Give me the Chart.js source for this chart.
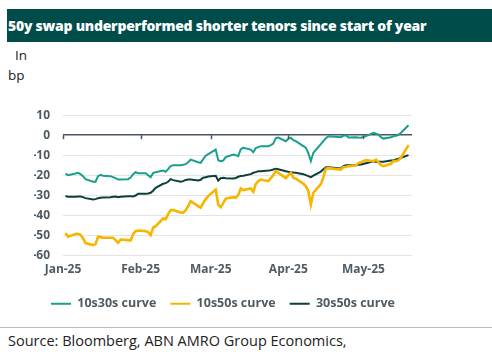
<!DOCTYPE html>
<html>
<head>
<meta charset="utf-8">
<script src="https://cdn.jsdelivr.net/npm/chart.js@4/dist/chart.umd.min.js"></script>
<style>
  html, body { margin: 0; padding: 0; background: #fff; }
  body { width: 492px; height: 356px; position: relative; overflow: hidden; font-family: "Open Sans", sans-serif; }
  #title { position: absolute; left: 7px; top: 9px; width: 485px; height: 33px; background: #004c4a; color: #fff;
           font-weight: 800; font-size: 14px; line-height: 33px; padding-left: 1px; box-sizing: border-box; white-space: nowrap; letter-spacing: -0.25px; }
  .unit { position: absolute; font-size: 13.5px; color: #222; }
  #sep { position: absolute; left: 0; top: 327px; width: 492px; height: 1px; background: #bdbdbd; }
  #source { position: absolute; left: 8px; top: 331px; font-size: 14.5px; color: #222; white-space: nowrap; }
  #wrap { position: absolute; left: 0; top: 95px; width: 492px; height: 225px; }
</style>
</head>
<body>
<div id="title">50y swap underperformed shorter tenors since start of year</div>
<div class="unit" style="left:15px; top:46px;">In</div>
<div class="unit" style="left:8px; top:66px;">bp</div>
<div id="wrap"><canvas id="c"></canvas></div>
<div id="sep"></div>
<div id="source">Source: Bloomberg, ABN AMRO Group Economics,</div>
<script>
const dates = [
 '2025-01-02','2025-01-03','2025-01-06','2025-01-07','2025-01-08','2025-01-09','2025-01-10','2025-01-13','2025-01-14','2025-01-15','2025-01-16','2025-01-17','2025-01-20','2025-01-21','2025-01-22','2025-01-23','2025-01-24','2025-01-27','2025-01-28','2025-01-29','2025-01-30','2025-01-31',
 '2025-02-03','2025-02-04','2025-02-05','2025-02-06','2025-02-07','2025-02-10','2025-02-11','2025-02-12','2025-02-13','2025-02-14','2025-02-17','2025-02-18','2025-02-19','2025-02-20','2025-02-21','2025-02-24','2025-02-25','2025-02-26','2025-02-27','2025-02-28',
 '2025-03-03','2025-03-04','2025-03-05','2025-03-06','2025-03-07','2025-03-10','2025-03-11','2025-03-12','2025-03-13','2025-03-14','2025-03-17','2025-03-18','2025-03-19','2025-03-20','2025-03-21','2025-03-24','2025-03-25','2025-03-26','2025-03-27','2025-03-28','2025-03-31',
 '2025-04-01','2025-04-02','2025-04-03','2025-04-04','2025-04-07','2025-04-08','2025-04-09','2025-04-10','2025-04-11','2025-04-14','2025-04-15','2025-04-16','2025-04-17','2025-04-22','2025-04-23','2025-04-24','2025-04-25','2025-04-28','2025-04-29','2025-04-30',
 '2025-05-02','2025-05-05','2025-05-06','2025-05-07','2025-05-08','2025-05-09','2025-05-12','2025-05-13','2025-05-14','2025-05-15','2025-05-16','2025-05-19'
];
const curve10s30s = [
 -19.2,-20,-19.2,-18.8,-19.5,-20.5,-22,-23.3,-23.3,-20.5,-19.8,-20.3,-20.5,-21,-21.5,-22.2,-22.2,-22,-21.2,-19.5,-18.5,-19,
 -19,-20,-21,-19,-18.5,-17.7,-18.3,-17,-15.5,-15,-15,-14.8,-14.5,-13.5,-12.2,-13.5,-13.8,-12,-10.3,-9.5,
 -7.2,-12.5,-13,-12.7,-11,-9.7,-10,-10.5,-7,-6.3,-7.2,-8.5,-6.5,-6,-5.5,-5.5,-5,-4.2,-1.5,-1.2,-3,
 -1.8,-1.3,-2.5,-3,-5.5,-6.3,-9,-13,-8.8,-4.5,-3,-1.5,-0.5,-1,-0.3,0,-1.2,-1,-1.2,-1.3,
 -0.5,1.2,0.8,0.3,-1,-1.7,-1,-0.6,-0.3,0.2,1.2,5
];
const curve10s50s = [
 -49,-50.8,-49.5,-49.3,-49.8,-51.5,-54,-55,-54.5,-50.8,-51,-51.3,-51.3,-51.3,-52.5,-53.8,-52.2,-52.5,-52.7,-49.5,-48,-47.7,
 -48,-48.5,-50,-46.3,-45.5,-41.7,-42,-39.5,-37.5,-37.5,-38.7,-38.8,-37.5,-35.5,-33,-35.5,-36.3,-34,-32,-30.5,
 -27.2,-34.7,-36,-34,-31.7,-31,-31.3,-30,-26.7,-27.5,-26.7,-28.3,-24.5,-23,-22.2,-23,-21.5,-20,-18,-18.8,-21.5,
 -20,-18.8,-21.3,-21.8,-24.3,-25.5,-28,-34.7,-28.8,-24.5,-21,-16.7,-16.5,-17.2,-16,-15.8,-15.5,-15,-14,-13.5,
 -12.5,-13,-12.2,-13.5,-15,-15.5,-14.3,-13,-13,-12.5,-11.3,-5
];
const curve30s50s = [
 -30.4,-30.8,-30.8,-30.7,-30.7,-31,-31.5,-32.2,-32,-31.5,-31.3,-31.2,-31,-30.8,-30.7,-31,-30.8,-30.5,-30.6,-30.7,-30.2,-29.3,
 -29.3,-29.2,-28.8,-27.8,-26.3,-24.3,-24,-23.3,-22,-22.5,-23.3,-23,-22.4,-22.2,-22.2,-22.7,-22.3,-21.3,-21,-20.7,
 -20.3,-22.7,-21.5,-21.3,-21.5,-21.7,-21.4,-20.8,-20.4,-20.3,-19.5,-18.8,-18.5,-18,-18,-17.7,-17.5,-17.2,-16.8,-17,-18,
 -18.3,-18.5,-18.7,-18.8,-19.5,-20,-20.5,-21,-20.2,-18.2,-17,-16,-16,-16.7,-15.5,-15,-15,-15,-14.8,-14.7,
 -14,-13,-13.3,-13.3,-13.3,-13.3,-12.7,-12.5,-12.2,-11.8,-11.3,-10
];
const monthTickDates = ['2025-01-01','2025-02-01','2025-03-01','2025-04-01','2025-05-01'];
const monthTickLabels = ['Jan-25','Feb-25','Mar-25','Apr-25','May-25'];
const yTicks = [10, 0, -10, -20, -30, -40, -50, -60];
const seriesNames = ['10s30s curve','10s50s curve','30s50s curve'];
const seriesColors = ['#17a08c','#f7b500','#0b3f3a'];

const base = Date.UTC(2025, 0, 1);
function dayOf(s) { const p = s.split('-').map(Number); return (Date.UTC(p[0], p[1]-1, p[2]) - base) / 86400000; }
const xDays = dates.map(dayOf);
const tickDays = monthTickDates.map(dayOf);
function pts(arr) { return arr.map((v, i) => ({ x: xDays[i], y: v })); }

const axisFont = { family: '"Open Sans", sans-serif', size: 12, weight: 'bold' };
const legendFont = { family: '"Open Sans", sans-serif', size: 12.5, weight: 'bold' };
const axisColor = '#4f5b63';

const zeroTicks = {
  id: 'zeroTicks',
  afterDatasetsDraw(chart) {
    const ctx = chart.ctx, xs = chart.scales.x, ys = chart.scales.y;
    const y0 = ys.getPixelForValue(0);
    ctx.save();
    ctx.strokeStyle = '#4a5560';
    ctx.lineWidth = 1.5;
    tickDays.forEach(d => {
      const px = Math.round(xs.getPixelForValue(d)) + 0.5;
      ctx.beginPath(); ctx.moveTo(px, y0); ctx.lineTo(px, y0 + 4); ctx.stroke();
    });
    ctx.restore();
  }
};

new Chart(document.getElementById('c'), {
  type: 'line',
  data: {
    datasets: [
      { label: seriesNames[0], data: pts(curve10s30s), borderColor: seriesColors[0], backgroundColor: seriesColors[0], borderWidth: 2, pointRadius: 0, tension: 0 },
      { label: seriesNames[1], data: pts(curve10s50s), borderColor: seriesColors[1], backgroundColor: seriesColors[1], borderWidth: 2.6, pointRadius: 0, tension: 0 },
      { label: seriesNames[2], data: pts(curve30s50s), borderColor: seriesColors[2], backgroundColor: seriesColors[2], borderWidth: 2, pointRadius: 0, tension: 0 }
    ]
  },
  options: {
    responsive: true,
    maintainAspectRatio: false,
    animation: false,
    layout: { padding: { left: 34, right: 80, top: 14, bottom: 0 } },
    plugins: {
      tooltip: { enabled: false },
      legend: {
        position: 'bottom',
        labels: {
          font: legendFont, color: axisColor, boxWidth: 20, boxHeight: 2, padding: 14,
          generateLabels(chart) {
            return chart.data.datasets.map((ds, i) => ({
              text: ds.label, fillStyle: ds.borderColor, strokeStyle: ds.borderColor, lineWidth: 0,
              fontColor: axisColor, hidden: false, datasetIndex: i
            }));
          }
        }
      }
    },
    scales: {
      x: {
        type: 'linear', min: 0, max: 139.4,
        grid: { display: false, drawTicks: false },
        border: { display: false },
        afterBuildTicks(scale) { scale.ticks = tickDays.map(v => ({ value: v })); },
        ticks: {
          font: axisFont, color: axisColor, padding: 7, maxRotation: 0, autoSkip: false,
          callback(value) { const i = tickDays.indexOf(value); return i >= 0 ? monthTickLabels[i] : ''; }
        }
      },
      y: {
        min: -60, max: 10,
        afterBuildTicks(scale) { scale.ticks = yTicks.map(v => ({ value: v })); },
        afterFit(scale) { scale.width = 29; },
        grid: {
          drawTicks: false,
          color: ctx => ctx.tick && ctx.tick.value === 0 ? '#4a5560' : '#e4e4e4',
          lineWidth: ctx => ctx.tick && ctx.tick.value === 0 ? 1.6 : 1
        },
        border: { display: false },
        ticks: { font: axisFont, color: axisColor, padding: 13 }
      }
    }
  },
  plugins: [zeroTicks]
});
</script>
</body>
</html>
